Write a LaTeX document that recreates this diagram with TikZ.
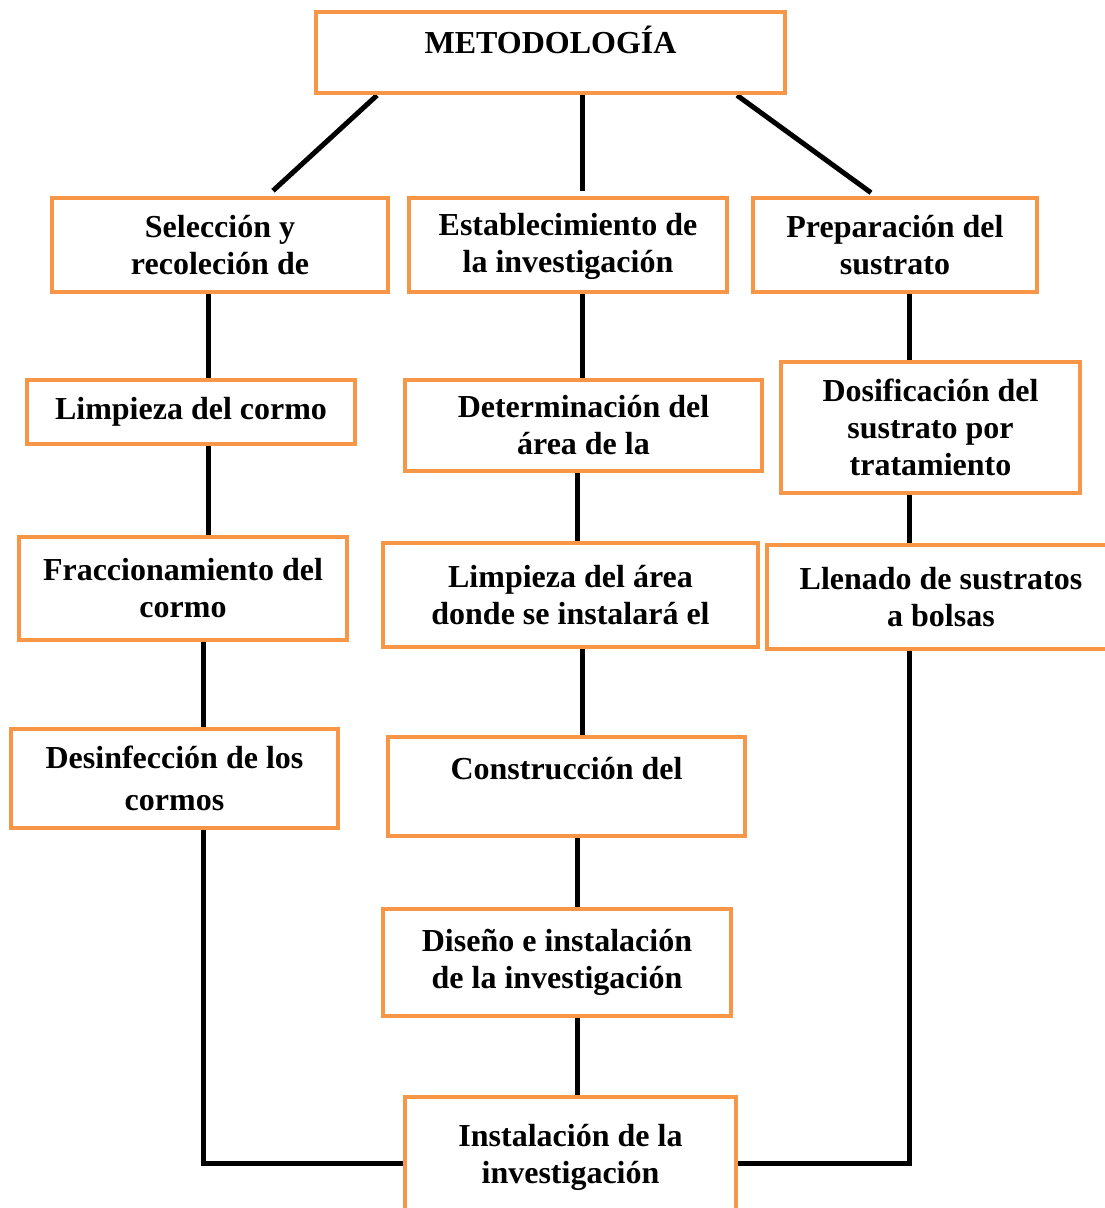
\documentclass[tikz,border=0pt]{standalone}
\usepackage{fontspec}
\setmainfont{Liberation Serif}
\usetikzlibrary{backgrounds}
\definecolor{boxorange}{RGB}{247,150,70}
\begin{document}
\begin{tikzpicture}[x=1pt,y=-1pt,
  box/.style={draw=boxorange, line width=4.6pt, fill=white, inner sep=0pt,
    align=center, font=\fontsize{32}{37}\selectfont\bfseries},
  conn/.style={draw=black, line width=5pt}]
\useasboundingbox (0,0) rectangle (1105,1208);
\node[box, minimum width=469pt, minimum height=81pt, text height=22pt, text depth=20pt] (met) at (550.5,52.5) {METODOLOGÍA};
\node[box, minimum width=336pt, minimum height=94pt] (sel) at (220,245) {Selección y\\recoleción de};
\node[box, minimum width=318pt, minimum height=94pt] (est) at (568,245) {\strut Establecimiento de\\la investigación};
\node[box, minimum width=284pt, minimum height=94pt] (prep) at (895,245) {Preparación del\\sustrato};
\node[box, minimum width=328pt, minimum height=64pt] (lc) at (191,412) {Limpieza del cormo};
\node[box, minimum width=357pt, minimum height=91pt] (det) at (583.5,425.5) {Determinación del\\área de la};
\node[box, minimum width=299pt, minimum height=131pt] (dos) at (930.5,427.5) {Dosificación del\\sustrato por\\tratamiento};
\node[box, minimum width=328pt, minimum height=103pt] (frac) at (183,588.5) {Fraccionamiento del\\cormo};
\node[box, minimum width=375pt, minimum height=104pt] (la) at (570.5,595) {Limpieza del área\\donde se instalará el};
\node[box, minimum width=348pt, minimum height=104pt] (lle) at (941,597) {Llenado de sustratos\\a bolsas};
\node[box, minimum width=327pt, minimum height=99pt] (des) at (174.5,778.5) {Desinfección de los\\[5pt]cormos};
\node[box, minimum width=357pt, minimum height=99pt] (con) at (566.5,786.5) {\strut Construcción del\\[-8pt]\strut};
\node[box, minimum width=348pt, minimum height=107pt] (dis) at (557,962.5) {Diseño e instalación\\de la investigación};
\node[box, minimum width=331pt, minimum height=120pt] (ins) at (570.5,1157) {Instalación de la\\investigación};
\begin{scope}[on background layer]
\draw[conn] ([xshift=-173.5pt]met.south) -- ([xshift=53pt,yshift=5pt]sel.north);
\draw[conn] ([xshift=31.5pt]met.south) -- ([xshift=14pt,yshift=5pt]est.north);
\draw[conn] ([xshift=186.5pt]met.south) -- ([xshift=-24pt,yshift=3pt]prep.north);
\draw[conn] ([xshift=-12pt]sel.south) -- ([xshift=17pt]lc.north);
\draw[conn] ([xshift=17pt]lc.south) -- ([xshift=25pt]frac.north);
\draw[conn] ([xshift=20pt]frac.south) -- ([xshift=28.5pt]des.north);
\draw[conn] ([xshift=28.5pt]des.south) |- ([yshift=-6pt]ins.west);
\draw[conn] ([xshift=14pt]est.south) -- ([xshift=-1.5pt]det.north);
\draw[conn] ([xshift=-6.5pt]det.south) -- ([xshift=6.5pt]la.north);
\draw[conn] ([xshift=11.5pt]la.south) -- ([xshift=15.5pt]con.north);
\draw[conn] ([xshift=10.5pt]con.south) -- ([xshift=20pt]dis.north);
\draw[conn] ([xshift=20pt]dis.south) -- ([xshift=6.5pt]ins.north);
\draw[conn] ([xshift=14pt]prep.south) -- ([xshift=-21.5pt]dos.north);
\draw[conn] ([xshift=-21.5pt]dos.south) -- ([xshift=-32pt]lle.north);
\draw[conn] ([xshift=-32pt]lle.south) |- ([yshift=-6pt]ins.east);
\end{scope}
\end{tikzpicture}
\end{document}
